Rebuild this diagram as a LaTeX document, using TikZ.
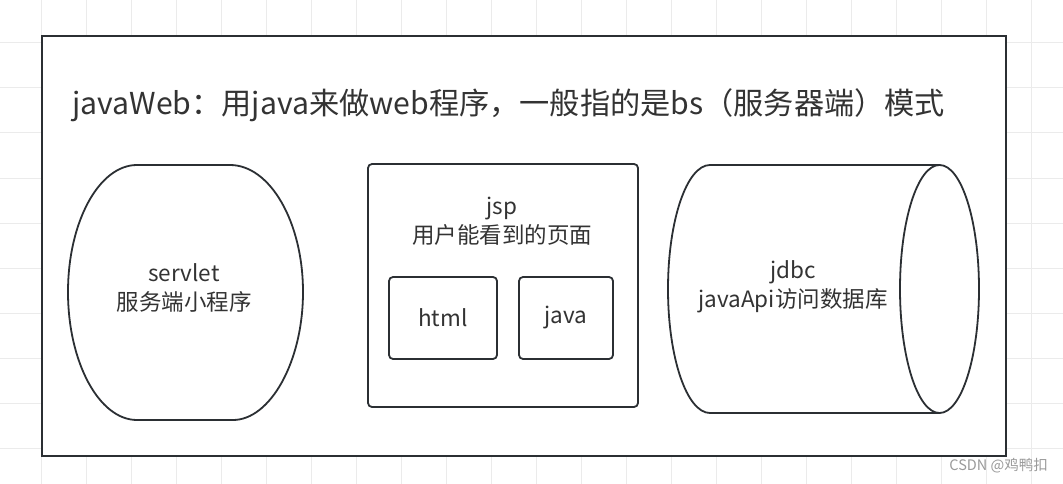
\documentclass[tikz,border=0pt]{standalone}
\usepackage{fontspec}
\setmainfont{Noto Sans CJK SC}
\definecolor{ln}{HTML}{2B2F33}
\definecolor{tx}{HTML}{333333}
\definecolor{gridc}{HTML}{EBEBEB}
\definecolor{wm}{HTML}{9A9A9A}
\begin{document}
\begin{tikzpicture}[x=1pt,y=-1pt,
  outline/.style={draw=ln,line width=1.8pt},
  boxnode/.style={outline,fill=white,rounded corners=4pt,inner sep=0pt},
  lbl/.style={text=tx,align=center,font=\fontsize{22.5}{29.5}\selectfont,inner sep=0pt},
  gridline/.style={draw=gridc,line width=1pt}
]
\useasboundingbox (0,0) rectangle (1063,484);
\fill[white] (0,0) rectangle (1063,484);
\foreach \x in {41,86,...,1031} \draw[gridline] (\x,0)--(\x,484);
\foreach \y in {43,88,...,448} \draw[gridline] (0,\y)--(1063,\y);
% outer frame
\node[outline,fill=white,minimum width=964pt,minimum height=420pt,inner sep=0pt] (frame) at (524,246) {};
\node[anchor=base west,text=tx,inner sep=0pt,font=\fontsize{30.2}{34}\selectfont] (title) at (72,115) {javaWeb：用java来做web程序，一般指的是bs（服务器端）模式};
% servlet
\draw[outline,fill=white] (137,165) -- (230,165) .. controls (270,165) and (303,222) .. (303,292) .. controls (303,362) and (270,420) .. (233,420) -- (137,420) .. controls (99,420) and (68,362) .. (68,292) .. controls (68,222) and (99,165) .. (137,165) -- cycle;
\node[lbl] (servlet) at (184,288) {servlet\\服务端小程序};
% jsp
\node[boxnode,minimum width=270pt,minimum height=243pt] (jsp) at (503,285.5) {};
\node[lbl] (jsptext) at (502,221) {jsp\\用户能看到的页面};
\node[boxnode,minimum width=108pt,minimum height=82pt,lbl,draw=ln,line width=1.8pt] (html) at (443,318) {html};
\node[boxnode,minimum width=94pt,minimum height=82pt,lbl,draw=ln,line width=1.8pt] (java) at (566,318) {java};
% cylinder
\draw[outline,fill=white] (939.5,165) -- (710,165) arc[start angle=270,end angle=90,x radius=42,y radius=124] -- (939.5,413);
\draw[outline,fill=white] (939.5,289) ellipse[x radius=39.5,y radius=124];
\node[lbl] (jdbc) at (793,287) {jdbc\\javaApi访问数据库};
% watermark
\node[anchor=east,text=wm,inner sep=0pt,font=\fontsize{14.5}{16}\selectfont] (wmk) at (1048,466) {CSDN @鸡鸭扣};
\end{tikzpicture}
\end{document}
